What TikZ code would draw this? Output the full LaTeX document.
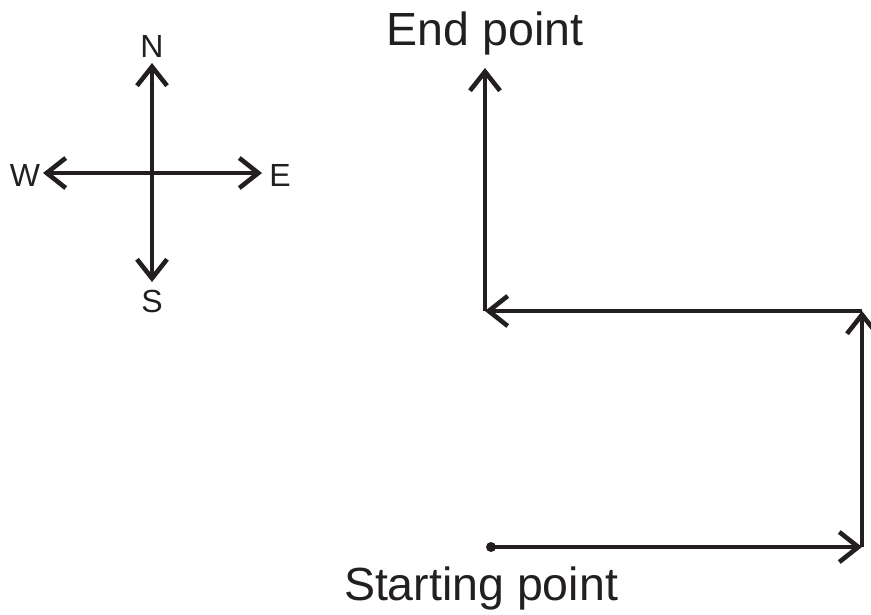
\documentclass[tikz,border=0pt]{standalone}
\usepackage{fontspec}
\setmainfont{Liberation Sans}
\usetikzlibrary{arrows.meta}
\definecolor{ink}{HTML}{231F20}
\begin{document}
\begin{tikzpicture}[x=1pt,y=-1pt,
  arr/.style={draw=ink,line width=4.6pt,-{Straight Barb[length=19pt,width=30pt]}},
  big/.style={text=ink,inner sep=0pt,anchor=base,font=\fontsize{46.5}{50}\selectfont},
  small/.style={text=ink,inner sep=0pt,anchor=base,font=\fontsize{32}{36}\selectfont}]
\useasboundingbox (0,0) rectangle (871,614);
% compass
\coordinate (cc) at (152,173);
\coordinate (cn) at (152,63);
\coordinate (cs) at (152,282);
\coordinate (cw) at (43,173);
\coordinate (ce) at (262,173);
\draw[arr] (cc) -- (cn);
\draw[arr] (cc) -- (cs);
\draw[arr] (cc) -- (cw);
\draw[arr] (cc) -- (ce);
\node[small] (ln) at (152,57) {N};
\node[small] (ls) at (152,312) {S};
\node[small] (lw) at (25,186) {W};
\node[small] (le) at (280,186) {E};
% path
\coordinate (p0) at (491,547);
\coordinate (p1) at (862,547);
\coordinate (p2) at (862,311);
\coordinate (p3) at (485,311);
\coordinate (p4) at (485,68);
\fill[ink] (p0) circle (5);
\draw[arr] (p0) -- (p1);
\draw[arr] (p1) -- (p2);
\draw[arr] (p2) -- (p3);
\draw[arr] (p3) -- (p4);
\node[big] (tend) at (485,45) {End point};
\node[big] (tstart) at (481,600) {Starting point};
\end{tikzpicture}
\end{document}
